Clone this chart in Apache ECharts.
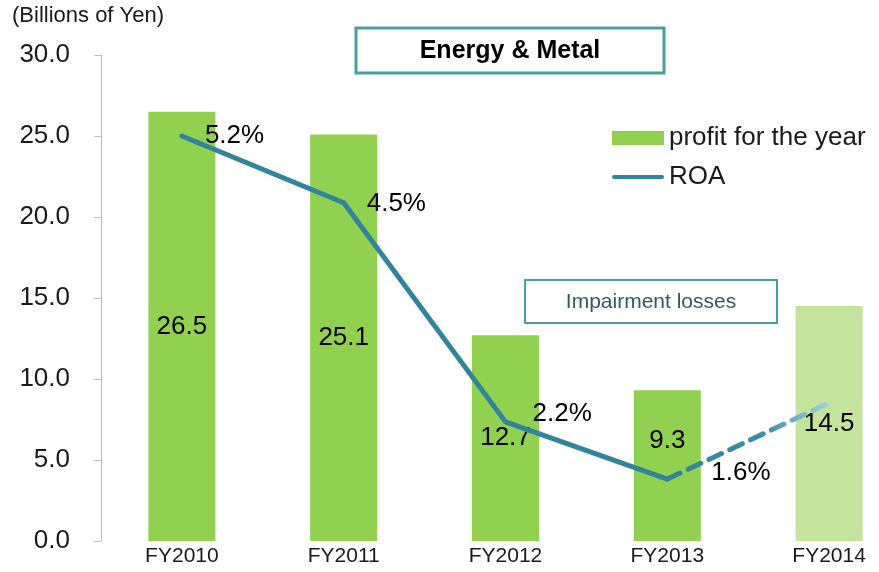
<!DOCTYPE html>
<html>
<head>
<meta charset="utf-8">
<script src="https://cdn.jsdelivr.net/npm/echarts@6/dist/echarts.min.js"></script>
<style>
html,body{margin:0;padding:0;background:#fff;}
#c{width:879px;height:572px;}
</style>
</head>
<body>
<div id="c"></div>
<script>
var categories = ['FY2010', 'FY2011', 'FY2012', 'FY2013', 'FY2014'];
var profit = [26.5, 25.1, 12.7, 9.3, 14.5];
var roaActual = [5.2, 4.5, 2.2, 1.6, null];
var roaForecast = [null, null, null, 1.6, 2.4];
var yTicks = [0, 5, 10, 15, 20, 25, 30];

var FONT = '"Liberation Sans", Arial, sans-serif';
var GREEN = '#92D050', LIGHT = '#C4E39D', TEAL = '#31849B';

var chart = echarts.init(document.getElementById('c'), null, {renderer: 'canvas'});

var barData = profit.map(function (v, i) {
  var d = {value: v, itemStyle: {color: i === 4 ? LIGHT : GREEN}};
  if (i === 3) d.label = {offset: [0, -25]};
  return d;
});
var labelCfg = [
  {distance: 22, offset: [0, 0]},
  {distance: 22, offset: [0, 1]},
  {distance: 26, offset: [0, -8]},
  {distance: 43, offset: [0, -6]}
];
var roaData = roaActual.map(function (v, i) {
  if (v === null) return null;
  return {value: v, label: {show: true, position: 'right', distance: labelCfg[i].distance, offset: labelCfg[i].offset}};
});

chart.setOption({
  animation: false,
  backgroundColor: '#fff',
  textStyle: {fontFamily: FONT},
  grid: {left: 101, right: -31, top: 55, bottom: 31, containLabel: false, outerBoundsMode: 'none'},
  legend: {
    orient: 'vertical', left: 612, top: 125, padding: 0,
    itemWidth: 52, itemHeight: 14, itemGap: 13,
    textStyle: {fontSize: 26, color: '#1a1a1a', fontFamily: FONT},
    data: [
      {name: 'profit for the year', icon: 'rect'},
      {name: 'ROA', icon: 'path://M2,0 H50 A2,2 0 0 1 50,4 H2 A2,2 0 0 1 2,0 Z', itemStyle: {color: TEAL, opacity: 1}}
    ]
  },
  xAxis: {
    type: 'category', data: categories,
    axisLine: {show: false}, axisTick: {show: false},
    axisLabel: {fontSize: 21, color: '#1a1a1a', margin: 5, fontFamily: FONT}
  },
  yAxis: [{
    type: 'value', min: 0, max: 30, interval: 5,
    axisLine: {show: true, lineStyle: {color: '#BFBFBF', width: 1}},
    axisTick: {show: true, length: 7, lineStyle: {color: '#BFBFBF'}},
    splitLine: {show: false},
    axisLabel: {fontSize: 26, color: '#1a1a1a', margin: 31, fontFamily: FONT,
      formatter: function (v) { return v.toFixed(1); }}
  }, {
    type: 'value', min: 0.95, max: 6.05, show: false, splitLine: {show: false}
  }],
  series: [{
    name: 'profit for the year', type: 'bar', data: barData, barWidth: 67,
    itemStyle: {color: GREEN},
    label: {show: true, position: 'inside', fontSize: 26, color: '#000', fontFamily: FONT},
    z: 2
  }, {
    name: 'ROA', type: 'line', yAxisIndex: 1, data: roaData,
    symbol: 'circle', symbolSize: 2, showSymbol: true,
    lineStyle: {color: TEAL, width: 5, cap: 'round', join: 'round'},
    itemStyle: {color: TEAL},
    label: {show: true, fontSize: 26, color: '#000', fontFamily: FONT, formatter: '{c}%'},
    z: 3
  }, {
    name: 'ROA forecast', type: 'line', yAxisIndex: 1, data: roaForecast,
    symbol: 'none',
    lineStyle: {
      width: 5, type: [14, 9], cap: 'round',
      color: {type: 'linear', x: 0, y: 0, x2: 1, y2: 0, colorStops: [
        {offset: 0, color: TEAL}, {offset: 0.6, color: '#3A8EA6'}, {offset: 1, color: 'rgba(160,210,232,0.85)'}
      ]}
    },
    z: 3
  }],
  graphic: [
    {type: 'text', left: 12, top: 5, style: {text: '(Billions of Yen)', font: '22px ' + FONT, fill: '#1a1a1a'}},
    {type: 'rect', shape: {x: 356, y: 28, width: 308, height: 45}, style: {fill: '#fff', stroke: '#4E9DA3', lineWidth: 3}, z: 10},
    {type: 'text', x: 510, y: 51, style: {text: 'Energy & Metal', font: 'bold 25px ' + FONT, fill: '#000', align: 'center', verticalAlign: 'middle'}, z: 11},
    {type: 'rect', shape: {x: 525, y: 280, width: 252, height: 43}, style: {fill: '#fff', stroke: '#4A9CA3', lineWidth: 2}, z: 10},
    {type: 'text', x: 651, y: 302, style: {text: 'Impairment losses', font: '21px ' + FONT, fill: '#2F5B60', align: 'center', verticalAlign: 'middle'}, z: 11}
  ]
});
</script>
</body>
</html>
